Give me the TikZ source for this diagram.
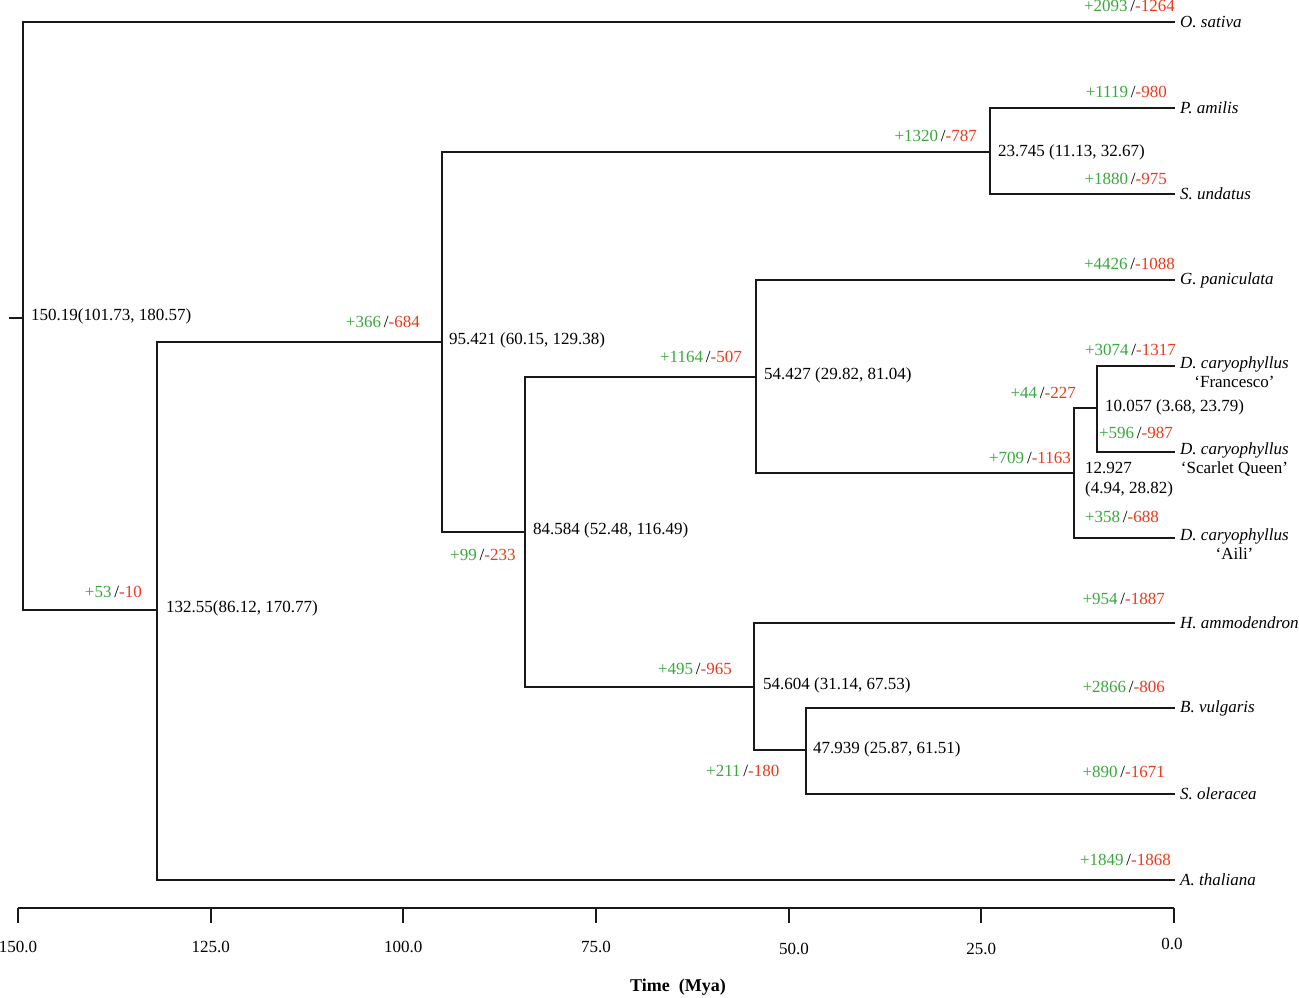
\documentclass[tikz,border=0pt]{standalone}
\usepackage{fontspec}
\setmainfont{Liberation Serif}
\usetikzlibrary{positioning}

\definecolor{gaingreen}{RGB}{58,168,62}
\definecolor{lossred}{RGB}{236,58,28}
\newcommand{\gainloss}[2]{{\color{gaingreen}+#1}\,/{\color{lossred}-#2}}

\tikzset{
    branch/.style={line width=1.8pt, black!90, line cap=rect},
    taxon/.style={anchor=west, inner sep=1pt, font=\fontsize{17}{19}\selectfont\itshape},
    cultivar/.style={anchor=north west, inner sep=1pt, align=center, font=\fontsize{17}{19}\selectfont},
    age/.style={anchor=west, inner sep=1pt, font=\fontsize{17}{20}\selectfont},
    gl/.style={anchor=east, inner sep=1pt, font=\fontsize{17}{19}\selectfont},
    tick/.style={line width=1.8pt, black!90},
    ticklabel/.style={inner sep=1pt, font=\fontsize{17}{19}\selectfont}
}

\begin{document}
\begin{tikzpicture}[x=1pt, y=-1pt]
    \useasboundingbox[fill=white] (0,0) rectangle (1299,997);

    % internal nodes
    \coordinate (stub) at (10,318);
    \coordinate (root) at (23,318);
    \coordinate (n132) at (157,610);
    \coordinate (n95) at (442,342);
    \coordinate (n23) at (990,152);
    \coordinate (n84) at (525,532);
    \coordinate (n54a) at (756,377);
    \coordinate (n12) at (1074,473);
    \coordinate (n10) at (1097,408);
    \coordinate (n54b) at (754,687);
    \coordinate (n47) at (806,750);

    % tips
    \coordinate (osat) at (1174,22);
    \coordinate (pami) at (1174,108);
    \coordinate (sund) at (1174,194);
    \coordinate (gpan) at (1174,280);
    \coordinate (dfra) at (1174,366);
    \coordinate (dsca) at (1174,452);
    \coordinate (dail) at (1174,538);
    \coordinate (hamm) at (1174,623);
    \coordinate (bvul) at (1174,708);
    \coordinate (sole) at (1174,794);
    \coordinate (atha) at (1174,880);

    \draw[branch] (stub) -- (root);
    \draw[branch] (root) |- (osat);
    \draw[branch] (root) |- (n132);
    \draw[branch] (n132) |- (n95);
    \draw[branch] (n132) |- (atha);
    \draw[branch] (n95) |- (n23);
    \draw[branch] (n95) |- (n84);
    \draw[branch] (n23) |- (pami);
    \draw[branch] (n23) |- (sund);
    \draw[branch] (n84) |- (n54a);
    \draw[branch] (n84) |- (n54b);
    \draw[branch] (n54a) |- (gpan);
    \draw[branch] (n54a) |- (n12);
    \draw[branch] (n12) |- (n10);
    \draw[branch] (n12) |- (dail);
    \draw[branch] (n10) |- (dfra);
    \draw[branch] (n10) |- (dsca);
    \draw[branch] (n54b) |- (hamm);
    \draw[branch] (n54b) |- (n47);
    \draw[branch] (n47) |- (bvul);
    \draw[branch] (n47) |- (sole);

    \node[taxon, right=5pt of osat] (osatL) {O. sativa};
    \node[taxon, right=5pt of pami] (pamiL) {P. amilis};
    \node[taxon, right=5pt of sund] (sundL) {S. undatus};
    \node[taxon, right=5pt of gpan] (gpanL) {G. paniculata};
    \node[cultivar, xshift=5pt, yshift=11pt] (dfraL) at (dfra) {\textit{D. caryophyllus}\\`Francesco'};
    \node[cultivar, xshift=5pt, yshift=11pt] (dscaL) at (dsca) {\textit{D. caryophyllus}\\`Scarlet Queen'};
    \node[cultivar, xshift=5pt, yshift=11pt] (dailL) at (dail) {\textit{D. caryophyllus}\\`Aili'};
    \node[taxon, right=5pt of hamm] (hammL) {H. ammodendron};
    \node[taxon, right=5pt of bvul] (bvulL) {B. vulgaris};
    \node[taxon, right=5pt of sole] (soleL) {S. oleracea};
    \node[taxon, right=5pt of atha] (athaL) {A. thaliana};

    \node[age] (rootA) at (30,316) {150.19(101.73, 180.57)};
    \node[age] (n132A) at (165,608) {132.55(86.12, 170.77)};
    \node[age] (n95A) at (448,340) {95.421 (60.15, 129.38)};
    \node[age] (n23A) at (997,152) {23.745 (11.13, 32.67)};
    \node[age] (n84A) at (532,530) {84.584 (52.48, 116.49)};
    \node[age] (n54aA) at (763,375) {54.427 (29.82, 81.04)};
    \node[age, align=left] (n12A) at (1084,480) {12.927\\(4.94, 28.82)};
    \node[age] (n10A) at (1104,407) {10.057 (3.68, 23.79)};
    \node[age] (n54bA) at (762,685) {54.604 (31.14, 67.53)};
    \node[age] (n47A) at (812,749) {47.939 (25.87, 61.51)};

    \node[gl] (osatG) at (1176,6) {\gainloss{2093}{1264}};
    \node[gl] (pamiG) at (1168,92) {\gainloss{1119}{980}};
    \node[gl] (sundG) at (1168,179) {\gainloss{1880}{975}};
    \node[gl] (n23G) at (978,136) {\gainloss{1320}{787}};
    \node[gl] (n95G) at (421,322) {\gainloss{366}{684}};
    \node[gl] (n132G) at (143,592) {\gainloss{53}{10}};
    \node[gl] (athaG) at (1172,860) {\gainloss{1849}{1868}};
    \node[gl, anchor=west] (n84G) at (449,555) {\gainloss{99}{233}};
    \node[gl] (n54aG) at (743,357) {\gainloss{1164}{507}};
    \node[gl] (gpanG) at (1176,264) {\gainloss{4426}{1088}};
    \node[gl] (n12G) at (1072,458) {\gainloss{709}{1163}};
    \node[gl] (n10G) at (1077,393) {\gainloss{44}{227}};
    \node[gl] (dfraG) at (1177,350) {\gainloss{3074}{1317}};
    \node[gl] (dscaG) at (1174,433) {\gainloss{596}{987}};
    \node[gl] (dailG) at (1160,517) {\gainloss{358}{688}};
    \node[gl] (n54bG) at (733,669) {\gainloss{495}{965}};
    \node[gl] (hammG) at (1166,599) {\gainloss{954}{1887}};
    \node[gl, anchor=west] (n47G) at (705,771) {\gainloss{211}{180}};
    \node[gl] (bvulG) at (1166,687) {\gainloss{2866}{806}};
    \node[gl] (soleG) at (1166,772) {\gainloss{890}{1671}};

    % time axis
    \draw[tick] (18,908) -- (1174,908);
    \draw[tick] (18,908) -- (18,923);
    \draw[tick] (210.7,908) -- (210.7,923);
    \draw[tick] (403.3,908) -- (403.3,923);
    \draw[tick] (596,908) -- (596,923);
    \draw[tick] (788.7,908) -- (788.7,923);
    \draw[tick] (981.3,908) -- (981.3,923);
    \draw[tick] (1174,908) -- (1174,923);
    \node[ticklabel] (t150) at (18,947) {150.0};
    \node[ticklabel] (t125) at (210.7,947) {125.0};
    \node[ticklabel] (t100) at (403.3,947) {100.0};
    \node[ticklabel] (t75) at (596,947) {75.0};
    \node[ticklabel] (t50) at (794,949) {50.0};
    \node[ticklabel] (t25) at (981.3,949) {25.0};
    \node[ticklabel] (t0) at (1172,944) {0.0};
    \node[font=\fontsize{18}{20}\selectfont\bfseries] (timeL) at (678,987) {Time\ \ (Mya)};
\end{tikzpicture}
\end{document}
